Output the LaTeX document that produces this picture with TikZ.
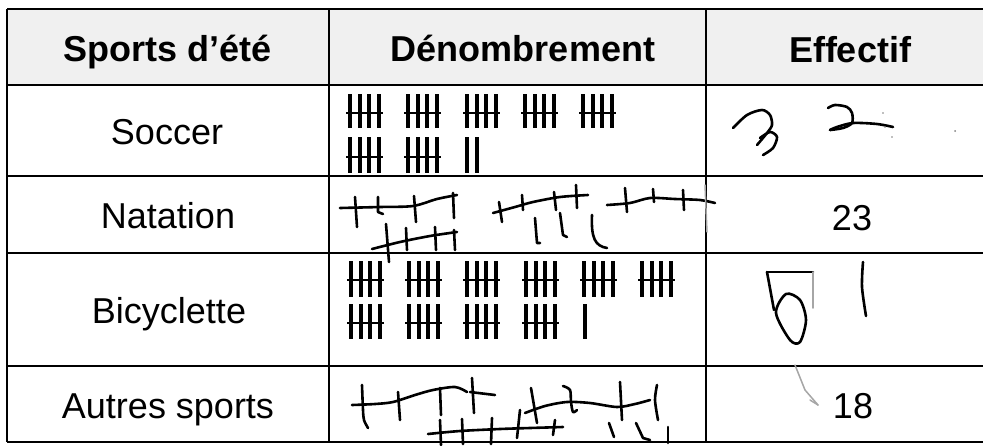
\documentclass[tikz,border=0pt]{standalone}
\usepackage{fontspec}
\setmainfont{Liberation Sans}
\newcommand\tallygrp[4]{% x0, ytop, ybot, ystrike
  \foreach \dx in {4,14,23,33}{\draw[tallyv] ({#1+\dx},#2) -- ({#1+\dx},#3);}
  \draw[tallyh] (#1,#4) -- ({#1+37},#4);}
\begin{document}
\begin{tikzpicture}[x=1pt,y=-1pt,
  grid/.style={line width=1.5pt},
  lbl/.style={font=\fontsize{36}{40}\selectfont, inner sep=0pt, anchor=base},
  hdr/.style={font=\fontsize{36}{40}\selectfont\bfseries, inner sep=0pt, anchor=base},
  tallyv/.style={line width=3.2pt},
  tallyh/.style={line width=1.5pt},
  pen/.style={line width=2.6pt, line cap=round, line join=round},
  faint/.style={line width=1.5pt, gray!70, line cap=round, line join=round}]
\useasboundingbox (0,0) rectangle (983,445);
% header background
\fill[gray!12] (7,9) rectangle (983,85);
% grid
\draw[grid] (7,9) -- (983,9);
\draw[grid] (7,85) -- (983,85);
\draw[grid] (7,176) -- (983,176);
\draw[grid] (7,253) -- (983,253);
\draw[grid] (7,366) -- (983,366);
\draw[grid] (7,442) -- (983,442);
\draw[grid] (7,9) -- (7,442);
\draw[grid] (329,9) -- (329,442);
\draw[grid] (706,9) -- (706,442);
% header texts
\node[hdr] (h1) at (168,61) {Sports d’été};
\node[hdr] (h2) at (523,61) {Dénombrement};
\node[hdr] (h3) at (850,62) {Effectif};
% row labels
\node[lbl] (r1) at (167,144) {Soccer};
\node[lbl] (r2) at (168,228) {Natation};
\node[lbl] (r3) at (169,323) {Bicyclette};
\node[lbl] (r4) at (168,418) {Autres sports};
\node[lbl] (n23) at (852,230) {23};
\node[lbl] (n18) at (853,418) {18};
% Soccer tallies
\foreach \x in {346,404,463,521,579}{\tallygrp{\x}{94}{128}{113}}
\foreach \x in {346,404}{\tallygrp{\x}{137}{173}{157}}
\draw[tallyv] (467,137) -- (467,173);
\draw[tallyv] (477,137) -- (477,173);
% Bicyclette tallies
\foreach \x in {347,405,463,522,580,638}{\tallygrp{\x}{261}{297}{280}}
\foreach \x in {347,405,463,522}{\tallygrp{\x}{304}{339}{323}}
\draw[tallyv] (585,304) -- (585,339);
% Natation handwritten
\draw[pen] plot[smooth] coordinates {(340,208) (380,207) (413,206) (437,199) (457,195)};
\draw[pen] (355,197) -- (357,227);
\draw[pen] (378,197) -- (378,212) -- (383,214);
\draw[pen] (414,196) -- (416,222);
\draw[pen] (453,193) -- (454,218);
\draw[pen] plot[smooth] coordinates {(372,249) (400,242) (430,236) (457,232)};
\draw[pen] (386,224) -- (389,262);
\draw[pen] (406,228) -- (407,250);
\draw[pen] (435,227) -- (436,250);
\draw[pen] (454,230) -- (455,250);
\draw[pen] plot[smooth] coordinates {(493,213) (515,207) (533,202) (560,197) (588,195)};
\draw[pen] (499,202) -- (502,222);
\draw[pen] (522,195) -- (523,210);
\draw[pen] (554,192) -- (556,210);
\draw[pen] (576,185) -- (577,208);
\draw[pen] (535,218) -- (537,243) -- (540,243);
\draw[pen] (560,213) -- (563,235) -- (567,237);
\draw[pen] (592,215) .. controls (591,238) and (595,246) .. (607,248);
\draw[pen] plot[smooth] coordinates {(607,205) (630,203) (650,198) (675,199) (700,200) (715,203)};
\draw[pen] (625,188) -- (627,212);
\draw[pen] (653,189) -- (654,202);
\draw[pen] (683,190) -- (684,210);
\draw[faint] (705,185) -- (707,232);
% Autres sports handwritten
\draw[pen] plot[smooth] coordinates {(352,405) (375,404) (393,402) (415,395) (433,390) (455,387) (467,392)};
\draw[pen] (470,392) -- (495,395);
\draw[pen] plot[smooth] coordinates {(362,385) (363,410) (364,420) (368,428)};
\draw[pen] (398,392) -- (400,420);
\draw[pen] (440,388) -- (441,415);
\draw[pen] (472,378) -- (474,413);
\draw[pen] plot[smooth] coordinates {(525,413) (545,406) (567,402) (590,403) (617,407) (635,404) (650,400)};
\draw[pen] (531,388) -- (537,423);
\draw[pen] plot[smooth] coordinates {(563,386) (570,390) (571,402) (573,412) (577,410)};
\draw[pen] (620,382) -- (622,420);
\draw[pen] plot[smooth] coordinates {(657,385) (655,400) (658,420)};
\draw[pen] plot[smooth] coordinates {(428,434) (460,431) (500,429) (530,428) (563,427)};
\draw[pen] (440,420) -- (441,445);
\draw[pen] (462,419) -- (463,444);
\draw[pen] (492,418) -- (491,444);
\draw[pen] (520,410) -- (517,438);
\draw[pen] (555,420) -- (553,435);
\draw[pen] (609,423) -- (614,437);
\draw[pen] (636,423) -- (643,438) -- (650,440);
\draw[pen] (668,427) -- (668,443);
% Effectif handwritten
\draw[pen] plot[smooth] coordinates {(733,128) (747,115) (762,110) (770,115) (772,125) (767,133) (757,145)};
\draw[pen] plot[smooth] coordinates {(760,138) (770,132) (777,137) (773,148) (763,155)};
\draw[pen] plot[smooth] coordinates {(828,108) (835,105) (847,107) (852,113) (852,123) (843,128) (830,130)};
\draw[pen] plot[smooth] coordinates {(830,130) (837,127) (853,123) (877,124) (893,127)};
\fill[gray] (883,113) circle (0.9pt);
\fill[gray] (885,127) circle (0.9pt);
\fill[gray] (892,137) circle (0.9pt);
\fill[gray] (955,131) circle (1pt);
\draw[pen] (767,272) -- (813,272);
\draw[pen] (767,272) -- (774,310);
\draw[pen] plot[smooth cycle] coordinates {(776,313) (786,294) (800,300) (806,320) (800,342) (790,340)};
\draw[faint] (813,272) -- (813,308);
\draw[pen] plot[smooth] coordinates {(863,262) (862,287) (866,316)};
\draw[faint] (795,365) -- (805,390) -- (818,405);
\draw[faint] (810,400) -- (818,405);
\end{tikzpicture}
\end{document}
